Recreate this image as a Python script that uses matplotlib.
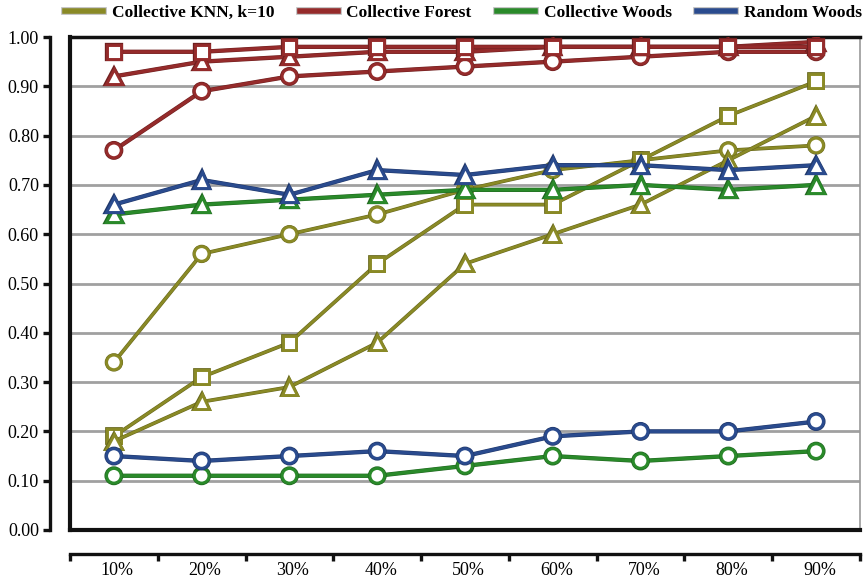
import matplotlib.pyplot as plt
import matplotlib.patheffects as pe
from matplotlib.lines import Line2D
from matplotlib.ticker import FixedLocator, NullFormatter

# training fraction on the x axis
labels = ['10%', '20%', '30%', '40%', '50%', '60%', '70%', '80%', '90%']

# Collective KNN, k=10
knn_circle = [0.34, 0.56, 0.60, 0.64, 0.69, 0.73, 0.75, 0.77, 0.78]
knn_square = [0.19, 0.31, 0.38, 0.54, 0.66, 0.66, 0.75, 0.84, 0.91]
knn_triangle = [0.18, 0.26, 0.29, 0.38, 0.54, 0.60, 0.66, 0.75, 0.84]

# Collective Forest
forest_circle = [0.77, 0.89, 0.92, 0.93, 0.94, 0.95, 0.96, 0.97, 0.97]
forest_triangle = [0.92, 0.95, 0.96, 0.97, 0.97, 0.98, 0.98, 0.98, 0.99]
forest_square = [0.97, 0.97, 0.98, 0.98, 0.98, 0.98, 0.98, 0.98, 0.98]

# Collective Woods
woods_circle = [0.11, 0.11, 0.11, 0.11, 0.13, 0.15, 0.14, 0.15, 0.16]
woods_triangle = [0.64, 0.66, 0.67, 0.68, 0.69, 0.69, 0.70, 0.69, 0.70]

# Random Woods
random_circle = [0.15, 0.14, 0.15, 0.16, 0.15, 0.19, 0.20, 0.20, 0.22]
random_triangle = [0.66, 0.71, 0.68, 0.73, 0.72, 0.74, 0.74, 0.73, 0.74]

OLIVE = '#8a8a26'
RED = '#952b2b'
GREEN = '#2a8a2a'
BLUE = '#2a4b8e'

plt.rcParams['font.family'] = 'Liberation Serif'
plt.rcParams['font.size'] = 13

fig = plt.figure(figsize=(8.63, 5.86), dpi=100)
ax = fig.add_axes([70 / 863, 56 / 586, 790 / 863, 493 / 586])

x = list(range(1, len(labels) + 1))


def draw(values, color, marker, lw=2.3, ms=10.5):
    dark = tuple(c * 0.75 for c in plt.matplotlib.colors.to_rgb(color))
    ax.plot(x, values, color=color, lw=lw, marker=marker, ms=ms,
            mfc='white', mec=color, mew=2.1, zorder=3,
            path_effects=[pe.Stroke(linewidth=lw + 0.8, foreground=dark), pe.Normal()])


draw(knn_circle, OLIVE, 'o', lw=1.9)
draw(knn_square, OLIVE, 's', lw=1.9, ms=10)
draw(knn_triangle, OLIVE, '^', lw=1.9, ms=11)
draw(forest_circle, RED, 'o')
draw(forest_triangle, RED, '^', ms=11)
draw(forest_square, RED, 's', ms=10)
draw(woods_circle, GREEN, 'o')
draw(woods_triangle, GREEN, '^', ms=11)
draw(random_circle, BLUE, 'o')
draw(random_triangle, BLUE, '^', ms=11)

ax.set_xlim(0.5, len(labels) + 0.5)
ax.set_ylim(0, 1.0)

# horizontal grid lines every 0.1
for v in [i / 10 for i in range(1, 10)]:
    ax.axhline(v, color='#a0a0a0', lw=2.0, zorder=1)

# plot frame: thick black left/top/bottom, thin grey right
ax.axhline(0, color='#111111', lw=3, zorder=4, clip_on=False)
ax.axvline(0.5, color='#111111', lw=3, zorder=4, clip_on=False)
ax.spines['top'].set_color('#111111')
ax.spines['top'].set_linewidth(2.5)
ax.spines['right'].set_color('#999999')
ax.spines['right'].set_linewidth(1.2)

# detached axis lines
ax.spines['left'].set_position(('outward', 14.4))
ax.spines['bottom'].set_position(('outward', 17.3))
for side in ['left', 'bottom']:
    ax.spines[side].set_linewidth(2.4)
    ax.spines[side].set_color('#111111')

ax.set_yticks([i / 10 for i in range(11)])
ax.set_yticklabels([f'{i / 10:.2f}' for i in range(11)])
ax.tick_params(axis='y', direction='out', length=5, width=2.4, color='#111111', pad=3)

ax.xaxis.set_major_locator(FixedLocator([i + 0.5 for i in range(0, len(labels) + 1)]))
ax.xaxis.set_major_formatter(NullFormatter())
ax.xaxis.set_minor_locator(FixedLocator([i + 0.04 for i in x]))
ax.set_xticklabels(labels, minor=True)
ax.tick_params(axis='x', which='major', direction='out', length=5, width=2.4, color='#111111')
ax.tick_params(axis='x', which='minor', length=0, pad=6)

handles = [Line2D([], [], color=c, lw=4,
                  path_effects=[pe.Stroke(linewidth=5.5, foreground='#bbbbbb'), pe.Normal()])
           for c in [OLIVE, RED, GREEN, BLUE]]
names = ['Collective KNN, k=10', 'Collective Forest', 'Collective Woods', 'Random Woods']
fig.legend(handles, names, loc='center', bbox_to_anchor=(0.537, 0.978), ncol=4,
           frameon=False, prop={'weight': 'bold', 'size': 12.5},
           handlelength=2.2, handletextpad=0.5, columnspacing=1.45)

fig.savefig('out.png', dpi=100, facecolor='white')
